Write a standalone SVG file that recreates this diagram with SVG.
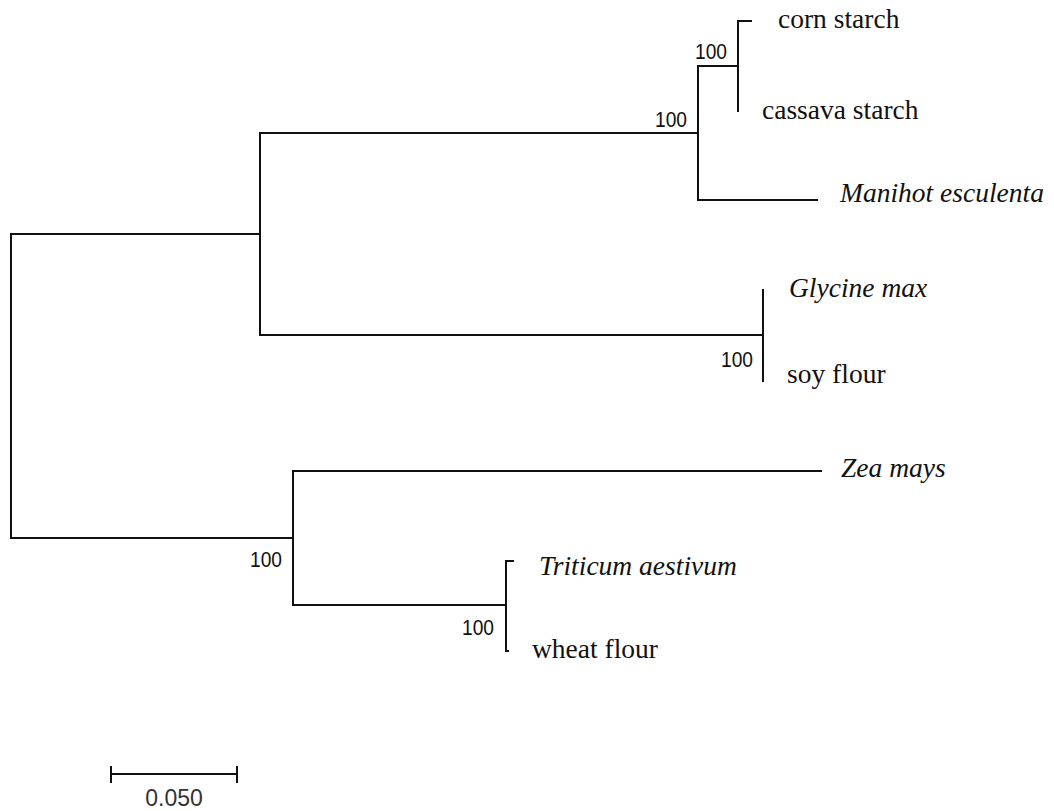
<svg xmlns="http://www.w3.org/2000/svg" width="1054" height="811" viewBox="0 0 1054 811">
<style>
.br{fill:none;stroke:#111;stroke-width:2;stroke-linecap:square}
.tx{font-family:"Liberation Serif","Times New Roman",serif;font-size:27.5px;fill:#111}
.it{font-style:italic}
.bs{font-family:"Liberation Sans",Arial,sans-serif;font-size:22px;fill:#111}
.sc{font-family:"Liberation Sans",Arial,sans-serif;font-size:23px;fill:#333}
</style>
<rect width="1054" height="811" fill="#fff"/>
<g id="connectors">
<path class="br" d="M11,234 V538"/>
<path class="br" d="M11,234 H260"/>
<path class="br" d="M11,538 H293"/>
<path class="br" d="M260,133 V335"/>
<path class="br" d="M260,133 H698"/>
<path class="br" d="M260,335 H763"/>
<path class="br" d="M698,66 V200"/>
<path class="br" d="M698,66 H738"/>
<path class="br" d="M698,200 H817"/>
<path class="br" d="M738,21 V111"/>
<path class="br" d="M738,21 H751"/>
<path class="br" d="M763,290 V381"/>
<path class="br" d="M293,471 V605"/>
<path class="br" d="M293,471 H821"/>
<path class="br" d="M293,605 H506"/>
<path class="br" d="M506,561 V651"/>
<path class="br" d="M506,561 H513"/>
<path class="br" d="M506,651 H508"/>
</g>
<g id="bootstraps">
<text class="bs" x="655" y="127" textLength="32" lengthAdjust="spacingAndGlyphs">100</text>
<text class="bs" x="695" y="59" textLength="32" lengthAdjust="spacingAndGlyphs">100</text>
<text class="bs" x="721" y="367" textLength="32" lengthAdjust="spacingAndGlyphs">100</text>
<text class="bs" x="250" y="567" textLength="32" lengthAdjust="spacingAndGlyphs">100</text>
<text class="bs" x="462" y="635" textLength="32" lengthAdjust="spacingAndGlyphs">100</text>
</g>
<g id="leaf-corn-starch"><text class="tx" x="778" y="28">corn starch</text></g>
<g id="leaf-cassava-starch"><text class="tx" x="762" y="119">cassava starch</text></g>
<g id="leaf-manihot"><text class="tx it" x="840" y="202">Manihot esculenta</text></g>
<g id="leaf-glycine"><text class="tx it" x="789" y="297">Glycine max</text></g>
<g id="leaf-soy"><text class="tx" x="787" y="383">soy flour</text></g>
<g id="leaf-zea"><text class="tx it" x="841" y="477">Zea mays</text></g>
<g id="leaf-triticum"><text class="tx it" x="539" y="575">Triticum aestivum</text></g>
<g id="leaf-wheat"><text class="tx" x="532" y="658">wheat flour</text></g>
<g id="scale-bar">
<path class="br" d="M111,774 H237 M111,767 V782 M237,767 V782"/>
<text class="sc" x="174" y="806" text-anchor="middle">0.050</text>
</g>
</svg>
